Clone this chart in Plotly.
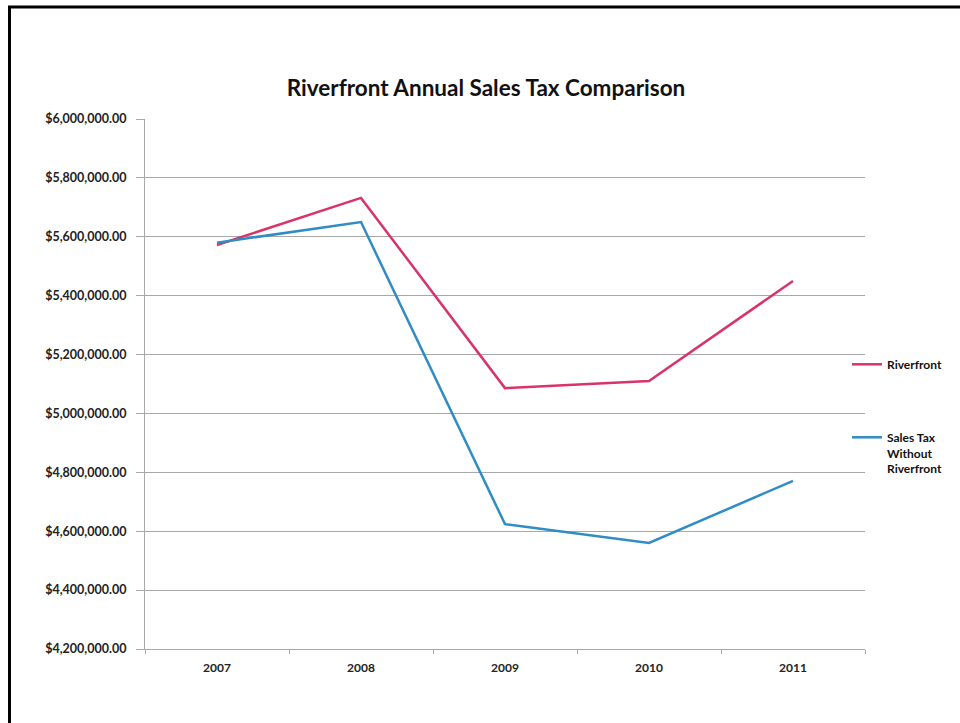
import plotly.graph_objects as go

years = ["2007", "2008", "2009", "2010", "2011"]
riverfront = [5572000, 5732000, 5086000, 5110000, 5450000]
without_riverfront = [5580000, 5650000, 4624000, 4560000, 4771000]
y_ticks = [4200000, 4400000, 4600000, 4800000, 5000000, 5200000, 5400000, 5600000, 5800000, 6000000]
y_tick_labels = ["${:,.2f}".format(v) for v in y_ticks]

W, H = 960, 723
ML, MR, MT, MB = 145, 95, 119, 74
PW, PH = W - ML - MR, H - MT - MB

def px_x(px):
    return (px - ML) / PW

def px_y(py):
    return (H - MB - py) / PH

FONT = "Lato"

fig = go.Figure()
fig.add_trace(go.Scatter(
    x=years, y=riverfront, mode="lines", name="Riverfront",
    line=dict(color="#d8346a", width=2.5), legendgroup="a"))
fig.add_trace(go.Scatter(
    x=years, y=without_riverfront, mode="lines",
    name="Sales Tax<br>Without<br>Riverfront",
    line=dict(color="#2f8cc4", width=2.5), legendgroup="b"))

fig.update_layout(
    width=W, height=H,
    margin=dict(l=ML, r=MR, t=MT, b=MB),
    paper_bgcolor="white", plot_bgcolor="white",
    font=dict(family=FONT, color="#222222", size=11),
    title=dict(text="<b>Riverfront Annual Sales Tax Comparison</b>",
               x=(486) / W, xanchor="center", y=1 - 88 / H, yanchor="middle",
               font=dict(size=22.5, family=FONT, color="#111111")),
    showlegend=True,
    legend=dict(x=px_x(847), xanchor="left", y=px_y(350), yanchor="top",
                font=dict(size=12, family=FONT, color="#111111", weight="bold"),
                valign="top", tracegroupgap=54, bgcolor="rgba(0,0,0,0)"),
    xaxis=dict(type="category", range=[-0.5, 4.5], showgrid=False,
               showline=True, linecolor="#a8a8a8", linewidth=1,
               ticks="outside", tickson="boundaries", ticklen=4, tickcolor="#a8a8a8",
               ticklabelstandoff=8,
               tickfont=dict(size=12, family=FONT, color="#222222", weight="bold"),
               zeroline=False),
    yaxis=dict(range=[4200000, 6000000], tickvals=y_ticks, ticktext=y_tick_labels,
               showgrid=True, gridcolor="#a8a8a8", gridwidth=1,
               showline=True, linecolor="#a8a8a8", linewidth=1,
               ticks="outside", ticklen=8, tickcolor="#a8a8a8",
               ticklabelstandoff=7,
               tickfont=dict(size=12.5, family=FONT, color="#222222", weight="bold"),
               zeroline=False),
)

# outer black frame (left and top edges of the scanned page border)
fig.add_shape(type="line", xref="paper", yref="paper",
              x0=px_x(9.5), x1=px_x(9.5), y0=px_y(H), y1=px_y(6),
              line=dict(color="black", width=3))
fig.add_shape(type="line", xref="paper", yref="paper",
              x0=px_x(8), x1=px_x(W), y0=px_y(7), y1=px_y(7),
              line=dict(color="black", width=3))

fig.write_html("out.html")
